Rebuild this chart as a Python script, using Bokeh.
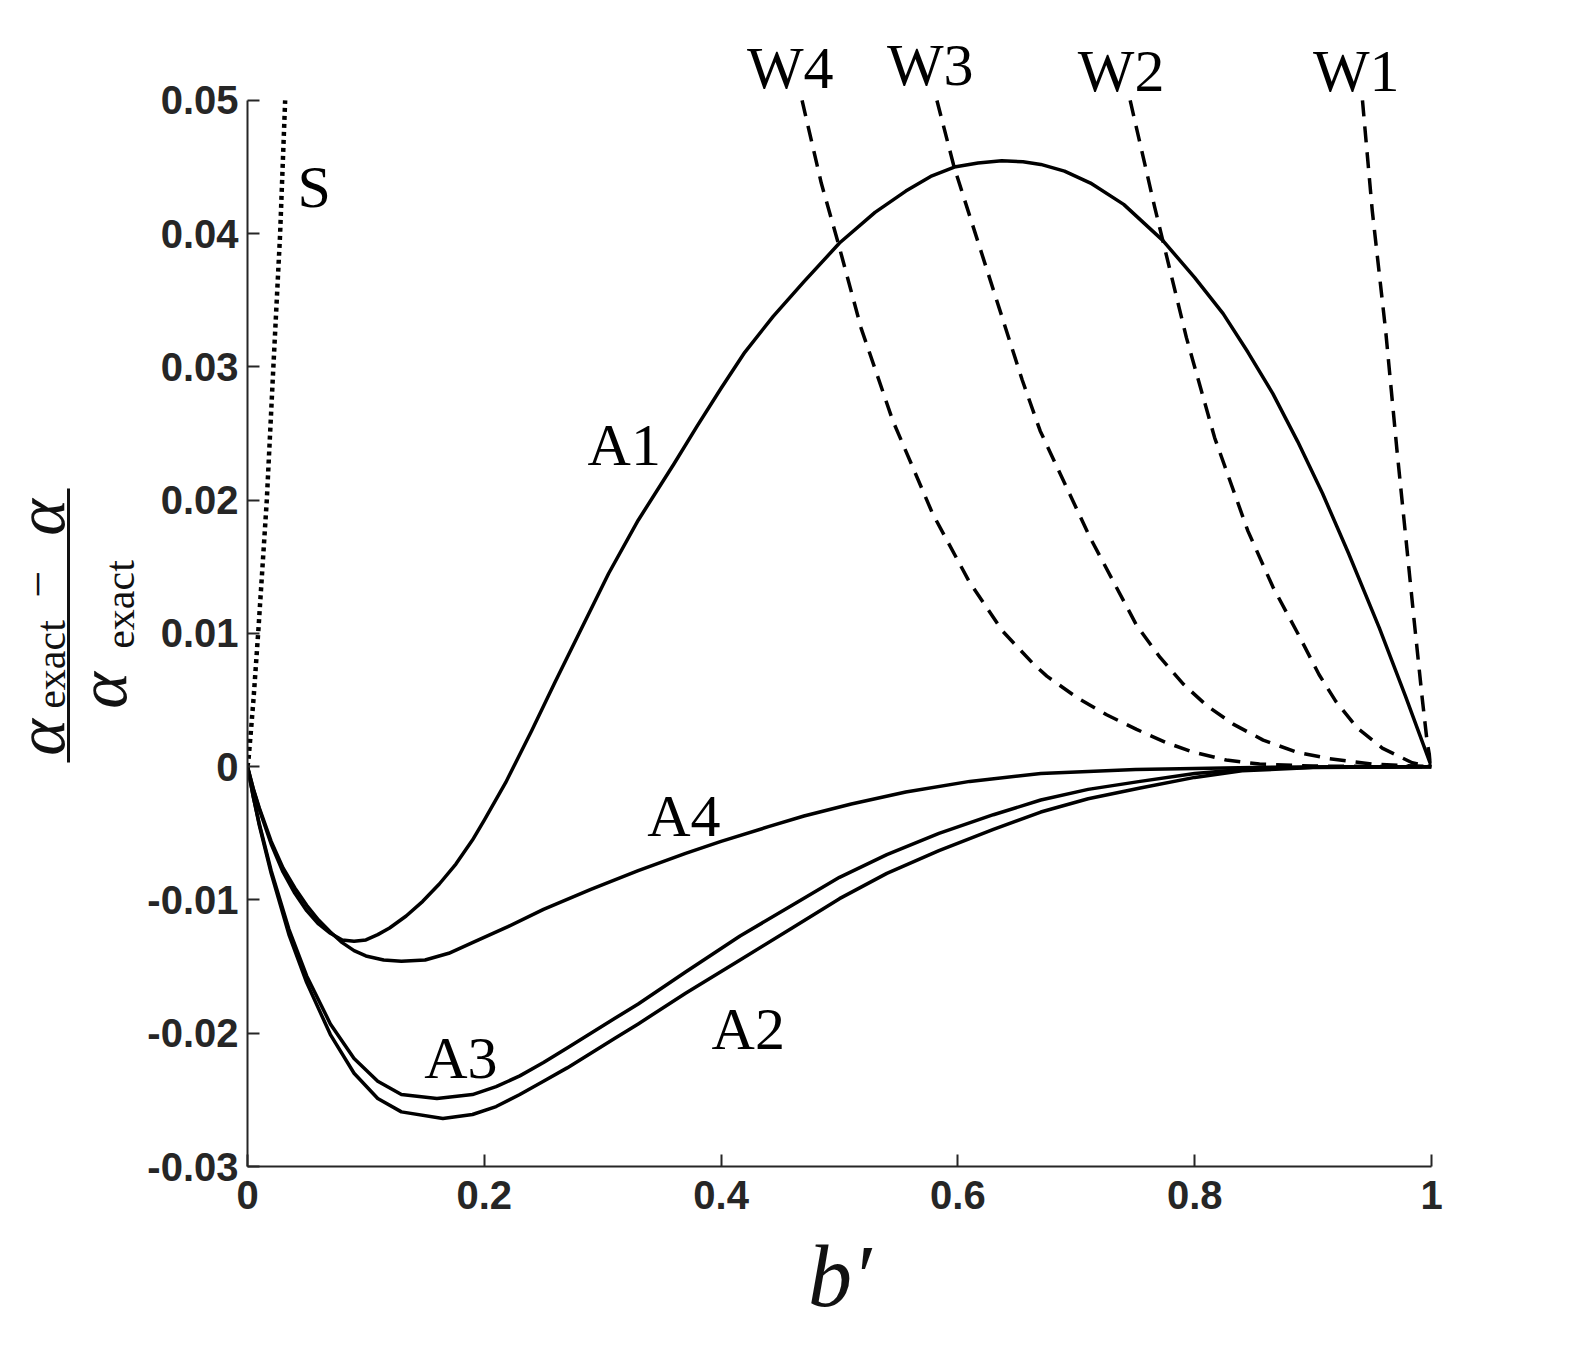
import math
from bokeh.plotting import figure
from bokeh.layouts import row
from bokeh.models import Label, FixedTicker, Range1d, BoxAnnotation
from bokeh.embed import file_html
from bokeh.resources import INLINE

# ---------------- data ----------------
a1_x = [0, 0.005, 0.01, 0.02, 0.03, 0.04, 0.05, 0.06, 0.07, 0.08, 0.09, 0.10, 0.11, 0.12,
        0.134, 0.148, 0.162, 0.176, 0.19, 0.20, 0.218, 0.24, 0.26, 0.28, 0.305, 0.33, 0.36,
        0.38, 0.40, 0.42, 0.444, 0.47, 0.50, 0.53, 0.556, 0.577, 0.597, 0.617, 0.637, 0.655,
        0.67, 0.69, 0.712, 0.74, 0.773, 0.80, 0.824, 0.845, 0.866, 0.887, 0.908, 0.93, 0.956,
        0.978, 1.0]
a1_y = [0, -0.0017, -0.0032, -0.0058, -0.0079, -0.0095, -0.0108, -0.0118, -0.0125, -0.0130,
        -0.0131, -0.0130, -0.0126, -0.0121, -0.0112, -0.0101, -0.0088, -0.0073, -0.0055,
        -0.0040, -0.0012, 0.0027, 0.0064, 0.0100, 0.0145, 0.0185, 0.0227, 0.0256, 0.0284,
        0.0311, 0.0338, 0.0364, 0.0393, 0.0416, 0.0432, 0.0443, 0.0450, 0.0453, 0.04547,
        0.0454, 0.0452, 0.0447, 0.0438, 0.0422, 0.0395, 0.0367, 0.0340, 0.0311, 0.0280,
        0.0244, 0.0205, 0.0160, 0.0104, 0.0053, 0]

a4_x = [0, 0.005, 0.01, 0.02, 0.03, 0.04, 0.05, 0.06, 0.07, 0.08, 0.09, 0.10, 0.115, 0.13,
        0.15, 0.17, 0.19, 0.22, 0.25, 0.29, 0.33, 0.37, 0.40, 0.44, 0.47, 0.51, 0.556, 0.61,
        0.67, 0.75, 0.85, 0.92, 1.0]
a4_y = [0, -0.0017, -0.0031, -0.0056, -0.0076, -0.0091, -0.0104, -0.0115, -0.0124, -0.0132,
        -0.0138, -0.0142, -0.0145, -0.0146, -0.0145, -0.0140, -0.0132, -0.0120, -0.0107,
        -0.0092, -0.0078, -0.0065, -0.0056, -0.0045, -0.0037, -0.0028, -0.0019, -0.0011,
        -0.0005, -0.0002, -0.00005, -0.00001, 0]

a3_x = [0, 0.005, 0.01, 0.02, 0.035, 0.05, 0.07, 0.09, 0.11, 0.13, 0.16, 0.19, 0.21, 0.23,
        0.25, 0.27, 0.29, 0.31, 0.33, 0.37, 0.416, 0.46, 0.50, 0.54, 0.584, 0.63, 0.67, 0.71,
        0.754, 0.80, 0.84, 0.90, 1.0]
a3_y = [0, -0.0023, -0.0043, -0.0078, -0.0122, -0.0157, -0.0193, -0.0219, -0.0236, -0.0246,
        -0.0249, -0.0246, -0.0240, -0.0232, -0.0222, -0.0211, -0.0200, -0.0189, -0.0178,
        -0.0154, -0.0127, -0.0104, -0.0083, -0.0066, -0.0050, -0.0036, -0.0025, -0.0017,
        -0.0011, -0.0005, -0.0002, -0.00004, 0]

a2_x = [0, 0.005, 0.01, 0.02, 0.035, 0.05, 0.07, 0.09, 0.11, 0.13, 0.165, 0.19, 0.21, 0.23,
        0.25, 0.27, 0.29, 0.31, 0.33, 0.37, 0.416, 0.46, 0.50, 0.54, 0.584, 0.63, 0.67, 0.71,
        0.754, 0.80, 0.84, 0.90, 1.0]
a2_y = [0, -0.0023, -0.0044, -0.0080, -0.0126, -0.0162, -0.0201, -0.0230, -0.0249, -0.0259,
        -0.0264, -0.0261, -0.0255, -0.0246, -0.0236, -0.0226, -0.0215, -0.0204, -0.0193,
        -0.0170, -0.0145, -0.0121, -0.0099, -0.0080, -0.0063, -0.0047, -0.0034, -0.0024,
        -0.0016, -0.0008, -0.0003, -0.00006, 0]

w4_x = [0.4684, 0.4846, 0.4986, 0.5183, 0.5449, 0.5786, 0.6095, 0.6375, 0.6628, 0.6751,
        0.7004, 0.7256, 0.7509, 0.7762, 0.7986, 0.8267, 0.8547, 0.90, 1.0]
w4_y = [0.05, 0.0438, 0.0394, 0.0329, 0.0260, 0.0190, 0.0139, 0.0102, 0.0078, 0.0068,
        0.0052, 0.0039, 0.0028, 0.0018, 0.0011, 0.0005, 0.0002, 0.00005, 0]

w3_x = [0.5823, 0.5968, 0.6263, 0.6544, 0.6695, 0.7116, 0.7510, 0.7708, 0.7904, 0.8100,
        0.8325, 0.8578, 0.8858, 0.9139, 0.95, 1.0]
w3_y = [0.05, 0.0450, 0.0368, 0.0290, 0.0252, 0.0172, 0.0106, 0.0082, 0.0062, 0.0046,
        0.0032, 0.0020, 0.0011, 0.0006, 0.0002, 0]

w2_x = [0.7455, 0.7662, 0.7733, 0.7930, 0.8168, 0.8449, 0.8660, 0.8883, 0.9051, 0.9192,
        0.9374, 0.9584, 0.9837, 1.0]
w2_y = [0.05, 0.0420, 0.0394, 0.0322, 0.0247, 0.0177, 0.0135, 0.0098, 0.0069, 0.0049,
        0.0029, 0.0014, 0.0003, 0]

w1_x = [0.9417, 0.9500, 0.9613, 0.9710, 0.9783, 0.9853, 0.9922, 0.9964, 1.0]
w1_y = [0.05, 0.0417, 0.0327, 0.0236, 0.0172, 0.0110, 0.0051, 0.0018, 0]

s_x = [0, 0.001, 0.003, 0.0051, 0.0093, 0.0163, 0.0219, 0.0275, 0.0318]
s_y = [0, 0.0007, 0.0028, 0.0051, 0.0104, 0.0200, 0.0301, 0.0399, 0.05]

x_ticks = [0, 0.2, 0.4, 0.6, 0.8, 1.0]
x_tick_labels = ["0", "0.2", "0.4", "0.6", "0.8", "1"]
y_ticks = [-0.03, -0.02, -0.01, 0, 0.01, 0.02, 0.03, 0.04, 0.05]
y_tick_labels = ["-0.03", "-0.02", "-0.01", "0", "0.01", "0.02", "0.03", "0.04", "0.05"]

curve_labels = ["W4", "W3", "W2", "W1", "S", "A1", "A4", "A3", "A2"]
curve_label_x = [0.4584, 0.5766, 0.7379, 0.9364, 0.0563, 0.3182, 0.3685, 0.1802, 0.4229]
curve_label_y = [0.05244, 0.05267, 0.05222, 0.05222, 0.04351, 0.02415, -0.00369, -0.02185, -0.01968]

# ---------------- layout ----------------
W, H = 1582, 1346
LW = 144                      # width of the left strip holding the y-axis label
BL, BR, BT, BB = 103, 151, 20, 180
X0, X1 = 0.0, 1.0
Y0, Y1 = -0.03, 0.056
INK = "#111111"
AX = "#262626"

yr = Range1d(Y0, Y1)


def dy(py):
    """page pixel row (from top) -> data y of the shared vertical range"""
    return Y0 + (H - BB - py) / (H - BT - BB) * (Y1 - Y0)


p = figure(width=W - LW, height=H, output_backend="svg", toolbar_location=None,
           x_range=Range1d(X0, X1), y_range=yr,
           min_border_left=BL, min_border_right=BR, min_border_top=BT, min_border_bottom=BB)
p.outline_line_color = None
p.grid.visible = False
p.background_fill_color = "white"
p.border_fill_color = "white"

for ax in (p.xaxis[0], p.yaxis[0]):
    ax.axis_line_color = AX
    ax.axis_line_width = 2
    ax.major_tick_line_color = AX
    ax.major_tick_line_width = 2
    ax.major_tick_in = 12
    ax.major_tick_out = 0
    ax.minor_tick_line_color = None
    ax.major_label_text_font = "Liberation Sans"
    ax.major_label_text_font_style = "bold"
    ax.major_label_text_font_size = "40px"
    ax.major_label_text_color = AX

p.xaxis[0].ticker = FixedTicker(ticks=x_ticks)
p.xaxis[0].major_label_overrides = dict(zip(x_ticks, x_tick_labels))
p.xaxis[0].major_label_standoff = 14
p.xaxis[0].axis_label = "b\u2032"
p.xaxis[0].axis_label_text_font = "Liberation Serif"
p.xaxis[0].axis_label_text_font_style = "italic"
p.xaxis[0].axis_label_text_font_size = "88px"
p.xaxis[0].axis_label_text_color = INK
p.xaxis[0].axis_label_standoff = 16

p.yaxis[0].ticker = FixedTicker(ticks=y_ticks)
p.yaxis[0].major_label_overrides = dict(zip(y_ticks, y_tick_labels))
p.yaxis[0].major_label_standoff = 9
p.yaxis[0].bounds = (y_ticks[0], y_ticks[-1])

# curves
for xs, ys in [(a1_x, a1_y), (a4_x, a4_y), (a3_x, a3_y), (a2_x, a2_y)]:
    p.line(xs, ys, line_color="black", line_width=3.5, line_join="round")
for xs, ys in [(w4_x, w4_y), (w3_x, w3_y), (w2_x, w2_y), (w1_x, w1_y)]:
    p.line(xs, ys, line_color="black", line_width=3.5, line_dash="16 10", line_join="round")
p.line(s_x, s_y, line_color="black", line_width=4.5, line_dash="4 4")

# curve labels
for t, lx, ly in zip(curve_labels, curve_label_x, curve_label_y):
    p.add_layout(Label(x=lx, y=ly, text=t, text_font="Liberation Serif",
                       text_font_size="60px", text_color="black",
                       text_align="center", text_baseline="middle"))

# ---------------- left strip: (alpha_exact - alpha) / alpha_exact, rotated ----------------
q = figure(width=LW, height=H, output_backend="svg", toolbar_location=None,
           x_range=Range1d(0, LW), y_range=yr,
           x_axis_location=None, y_axis_location=None,
           min_border_left=0, min_border_right=0, min_border_top=BT, min_border_bottom=BB)
q.outline_line_color = None
q.grid.visible = False
q.background_fill_color = "white"
q.border_fill_color = "white"

rot = math.pi / 2
# (text, anchor x in px, centre row in px from top, size, style)
pieces = [
    ("\u03b1", 40, 737, "70px", "italic"),
    ("exact", 50, 664, "42px", "normal"),
    ("\u2212", 37, 584, "48px", "normal"),
    ("\u03b1", 40, 517, "70px", "italic"),
    ("\u03b1", 102, 690, "70px", "italic"),
    ("exact", 119, 604, "42px", "normal"),
]
for t, px, py, fs, st in pieces:
    q.add_layout(Label(x=px, y=dy(py), text=t, angle=rot, text_font="Liberation Serif",
                       text_font_size=fs, text_font_style=st, text_color=INK,
                       text_align="center", text_baseline="middle"))
q.add_layout(BoxAnnotation(left=66.5, right=69.5, bottom=dy(762), top=dy(488),
                           fill_color=INK, fill_alpha=1.0, line_color=None))

layout = row(q, p, spacing=0)
open("out.html", "w").write(file_html(layout, INLINE))
